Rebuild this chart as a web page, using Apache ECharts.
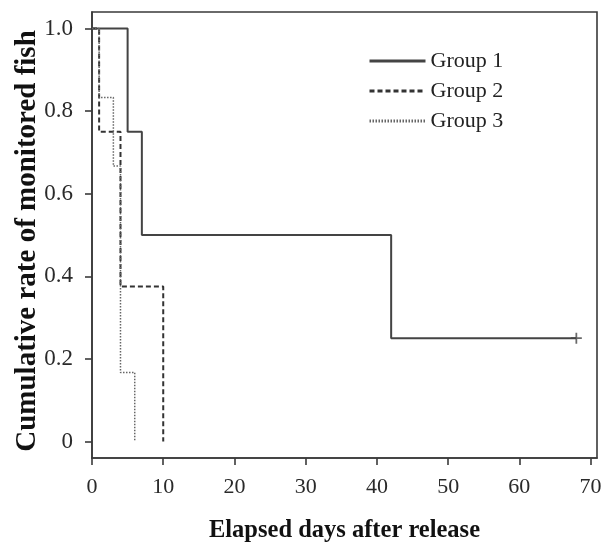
<!DOCTYPE html>
<html>
<head>
<meta charset="utf-8">
<script src="https://cdn.jsdelivr.net/npm/echarts@6/dist/echarts.min.js"></script>
<style>html,body{margin:0;padding:0;background:#fff}#c{width:607px;height:542px}</style>
</head>
<body>
<div id="c"></div>
<script>
var seriesNames = ['Group 1', 'Group 2', 'Group 3'];
var group1 = [[0, 1.0], [5, 0.75], [7, 0.5], [42, 0.25], [68, 0.25]];
var group2 = [[0, 1.0], [1, 0.75], [4, 0.375], [10, 0]];
var group3 = [[0, 1.0], [1, 0.833], [3, 0.667], [4, 0.167], [6, 0]];
var censored1 = [[68, 0.25]];
var xTicks = [0, 10, 20, 30, 40, 50, 60, 70];
var yTicks = [0, 0.2, 0.4, 0.6, 0.8, 1.0];

var FONT = '"Liberation Serif", "DejaVu Serif", serif';
var chart = echarts.init(document.getElementById('c'), null, {renderer: 'canvas'});
chart.setOption({
  animation: false,
  backgroundColor: '#fff',
  grid: {left: 92, top: 12, width: 505, height: 446, show: true, borderColor: '#3a3a3a', borderWidth: 1.6,
    containLabel: false, outerBoundsMode: 'none'},
  legend: {
    orient: 'vertical', left: 363, top: 42, itemWidth: 56, itemHeight: 14, itemGap: 2,
    data: seriesNames,
    textStyle: {fontFamily: FONT, fontSize: 22, color: '#222', lineHeight: 28},
    itemStyle: {opacity: 0},
    lineStyle: {width: 3}
  },
  xAxis: {
    type: 'value', min: 0, max: 70.9, interval: 10,
    axisLine: {show: true, onZero: false, lineStyle: {color: '#3a3a3a', width: 1.6}},
    axisTick: {show: true, inside: false, length: 7, lineStyle: {color: '#3a3a3a', width: 1.6}, customValues: xTicks},
    axisLabel: {margin: 18, fontFamily: FONT, fontSize: 22, color: '#2a2a2a', customValues: xTicks},
    splitLine: {show: false},
    name: 'Elapsed days after release', nameLocation: 'middle', nameGap: 60, nameMoveOverlap: false,
    nameTextStyle: {fontFamily: FONT, fontSize: 24.5, fontWeight: 'bold', color: '#111'}
  },
  yAxis: {
    type: 'value', min: -0.04, max: 1.04,
    axisLine: {show: true, onZero: false, lineStyle: {color: '#3a3a3a', width: 1.6}},
    axisTick: {show: true, inside: false, length: 7, lineStyle: {color: '#3a3a3a', width: 1.6}, customValues: yTicks},
    axisLabel: {margin: 19, fontFamily: FONT, fontSize: 23, color: '#2a2a2a', customValues: yTicks,
      formatter: function (v) { return Math.abs(v) < 1e-9 ? '0' : v.toFixed(1); }},
    splitLine: {show: false},
    name: 'Cumulative rate of monitored fish', nameLocation: 'middle', nameGap: 50, nameMoveOverlap: false,
    nameTextStyle: {fontFamily: FONT, fontSize: 29, fontWeight: 'bold', color: '#111', padding: [0, 12, 0, 0]}
  },
  series: [
    {name: seriesNames[0], type: 'line', step: 'end', data: group1, showSymbol: false, symbol: 'none',
      lineStyle: {color: '#444', width: 2, type: 'solid'}, itemStyle: {color: '#222'}, z: 3},
    {name: seriesNames[1], type: 'line', step: 'end', data: group2, showSymbol: false, symbol: 'none',
      lineStyle: {color: '#333', width: 2, type: [5, 3]}, itemStyle: {color: '#222'}, z: 4},
    {name: seriesNames[2], type: 'line', step: 'end', data: group3, showSymbol: false, symbol: 'none',
      lineStyle: {color: '#666', width: 1.5, type: [1.5, 1.5]}, itemStyle: {color: '#444'}, z: 5},
    {name: 'censor', type: 'scatter', data: censored1, symbol: 'path://M4.2,0H5.8V4.2H10V5.8H5.8V10H4.2V5.8H0V4.2H4.2Z',
      symbolSize: 11, itemStyle: {color: '#444'}, z: 6, silent: true}
  ]
});
</script>
</body>
</html>
